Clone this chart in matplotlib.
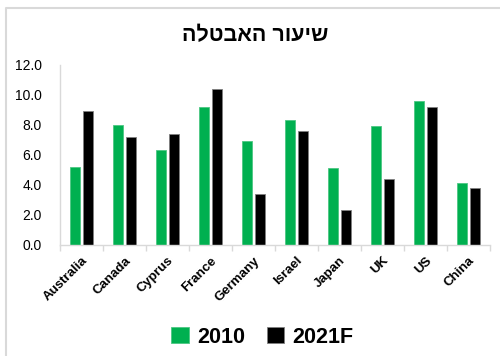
import matplotlib.pyplot as plt
import numpy as np
from matplotlib.lines import Line2D

plt.rcParams['font.family'] = ['Liberation Sans', 'DejaVu Sans']

countries = ['Australia', 'Canada', 'Cyprus', 'France', 'Germany',
             'Israel', 'Japan', 'UK', 'US', 'China']
rate_2010 = [5.2, 8.0, 6.3, 9.2, 6.9, 8.3, 5.1, 7.9, 9.6, 4.1]
rate_2021f = [8.9, 7.2, 7.4, 10.4, 3.4, 7.6, 2.3, 4.4, 9.2, 3.8]
series_names = ['2010', '2021F']
title = 'שיעור האבטלה'
yticks = [0, 2, 4, 6, 8, 10, 12]

green = '#00B050'
grid_grey = '#d9d9d9'

fig = plt.figure(figsize=(5, 3.56), dpi=100)
ax = fig.add_axes([0.12, 0.312, 0.86, 0.506])

x = np.arange(len(countries))
w = 0.23
ax.bar(x - 0.15, rate_2010, w, color=green, edgecolor='#4cc783', linewidth=0.6,
       label=series_names[0])
ax.bar(x + 0.15, rate_2021f, w, color='black', edgecolor='#808080', linewidth=0.6,
       label=series_names[1])

ax.set_xlim(-0.5, len(countries) - 0.5)
ax.set_ylim(0, 12)
ax.set_yticks(yticks)
ax.set_yticklabels([f'{v:.1f}' for v in yticks], fontsize=10)
ax.tick_params(axis='y', length=0, pad=13)

ax.set_xticks(x)
ax.set_xticklabels(countries, rotation=45, ha='right', rotation_mode='anchor',
                   fontsize=9.5, fontweight='bold')
ax.tick_params(axis='x', which='major', length=0, pad=7)
ax.set_xticks(np.arange(-0.5, len(countries)), minor=True)
ax.tick_params(axis='x', which='minor', length=4, color=grid_grey, width=1)

for side in ['top', 'right']:
    ax.spines[side].set_visible(False)
for side in ['left', 'bottom']:
    ax.spines[side].set_color(grid_grey)
    ax.spines[side].set_linewidth(1)

# hebrew needs to be given in visual (left-to-right) order
fig.text(0.51, 0.9, title[::-1], ha='center', va='center',
         fontsize=15.5, fontweight='bold')

fig.legend(loc='center', bbox_to_anchor=(0.525, 0.053), ncol=2, frameon=False,
           prop={'size': 15.5, 'weight': 'bold'}, handlelength=0.8, handleheight=0.8,
           handletextpad=0.4, columnspacing=1.0)

# outer chart frame (left and top edges)
fy = 1 - 8 / 356
fx = 6 / 500
fig.add_artist(Line2D([fx, fx, 1], [0, fy, fy], color=grid_grey, lw=1.5,
                      transform=fig.transFigure))

fig.savefig('out.png', dpi=100)
